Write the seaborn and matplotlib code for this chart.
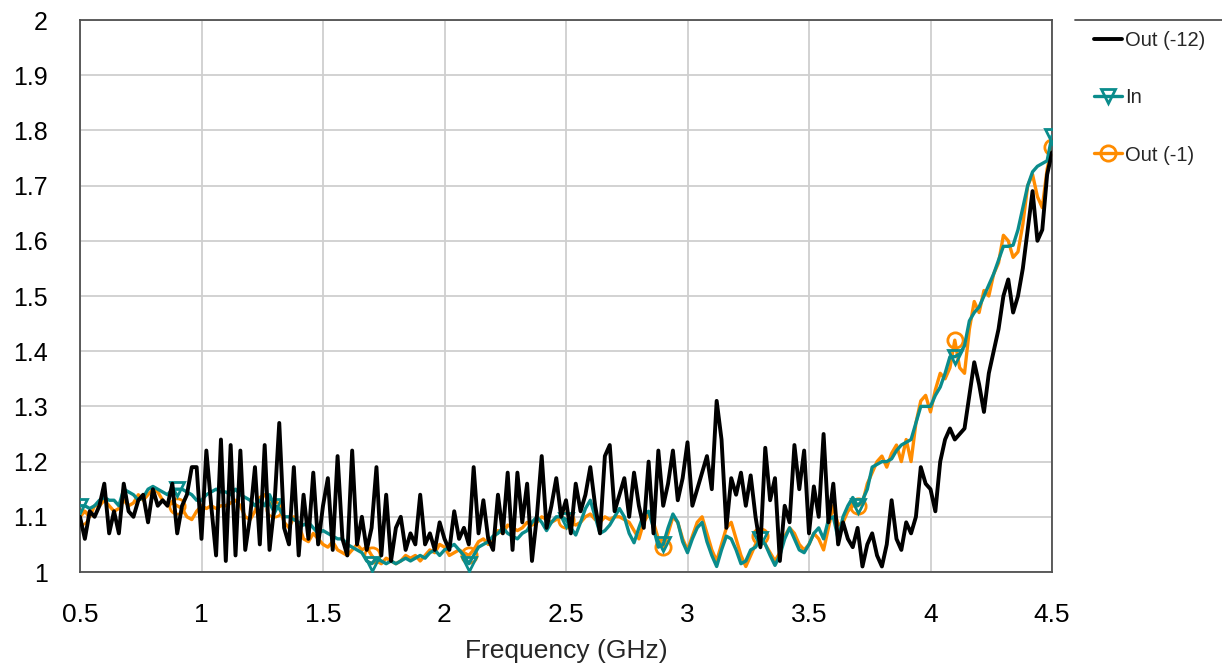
import numpy as np
import pandas as pd
import matplotlib
matplotlib.use("Agg")
import matplotlib.pyplot as plt
from matplotlib.lines import Line2D
from matplotlib.ticker import FuncFormatter
import seaborn as sns

# ---- data (0.02 GHz sampling from 0.5 to 4.5 GHz) ----
freq_start, freq_stop = 0.5, 4.5

out12_vals = [
    1.10, 1.06, 1.11, 1.10, 1.12, 1.16, 1.07, 1.11, 1.07, 1.16,   # 0.50-0.68
    1.11, 1.10, 1.13, 1.14, 1.09, 1.15, 1.12, 1.13, 1.12, 1.16,   # 0.70-0.88
    1.07, 1.12, 1.14, 1.19, 1.19, 1.06, 1.22, 1.12, 1.03, 1.24,   # 0.90-1.08
    1.02, 1.23, 1.03, 1.22, 1.04, 1.10, 1.19, 1.05, 1.23, 1.04,   # 1.10-1.28
    1.12, 1.27, 1.08, 1.05, 1.19, 1.03, 1.14, 1.06, 1.18, 1.05,   # 1.30-1.48
    1.12, 1.17, 1.04, 1.21, 1.06, 1.03, 1.22, 1.05, 1.10, 1.04,   # 1.50-1.68
    1.08, 1.19, 1.03, 1.14, 1.02, 1.08, 1.10, 1.04, 1.07, 1.05,   # 1.70-1.88
    1.14, 1.05, 1.07, 1.04, 1.09, 1.06, 1.04, 1.11, 1.06, 1.08,   # 1.90-2.08
    1.05, 1.19, 1.07, 1.13, 1.06, 1.04, 1.14, 1.07, 1.18, 1.04,   # 2.10-2.28
    1.18, 1.09, 1.16, 1.02, 1.10, 1.21, 1.08, 1.12, 1.17, 1.10,   # 2.30-2.48
    1.13, 1.07, 1.16, 1.11, 1.14, 1.19, 1.12, 1.07, 1.21, 1.23,   # 2.50-2.68
    1.11, 1.14, 1.17, 1.10, 1.18, 1.12, 1.08, 1.20, 1.07, 1.22,   # 2.70-2.88
    1.12, 1.16, 1.22, 1.13, 1.17, 1.235, 1.12, 1.15, 1.18, 1.21,  # 2.90-3.08
    1.15, 1.31, 1.24, 1.08, 1.17, 1.14, 1.18, 1.12, 1.175, 1.10,  # 3.10-3.28
    1.045, 1.225, 1.13, 1.17, 1.02, 1.12, 1.09, 1.23, 1.15, 1.22, # 3.30-3.48
    1.07, 1.155, 1.10, 1.25, 1.09, 1.16, 1.05, 1.09, 1.06, 1.045, # 3.50-3.68
    1.08, 1.01, 1.05, 1.07, 1.03, 1.01, 1.05, 1.13, 1.06, 1.04,   # 3.70-3.88
    1.09, 1.07, 1.10, 1.19, 1.16, 1.15, 1.11, 1.20, 1.24, 1.26,   # 3.90-4.08
    1.24, 1.25, 1.26, 1.32, 1.38, 1.34, 1.29, 1.36, 1.40, 1.44,   # 4.10-4.28
    1.50, 1.53, 1.47, 1.50, 1.55, 1.62, 1.69, 1.60, 1.62, 1.72,   # 4.30-4.48
    1.76,                                                         # 4.50
]

in_vals = [
    1.12, 1.12, 1.115, 1.12, 1.13, 1.135, 1.13, 1.13, 1.12, 1.15,   # 0.50-0.68
    1.145, 1.14, 1.13, 1.135, 1.15, 1.155, 1.15, 1.145, 1.14, 1.15, # 0.70-0.88
    1.15, 1.15, 1.145, 1.14, 1.13, 1.13, 1.14, 1.145, 1.15, 1.145,  # 0.90-1.08
    1.145, 1.14, 1.15, 1.14, 1.135, 1.13, 1.12, 1.13, 1.12, 1.14,   # 1.10-1.28
    1.12, 1.115, 1.10, 1.10, 1.095, 1.09, 1.085, 1.09, 1.08, 1.07,  # 1.30-1.48
    1.075, 1.07, 1.065, 1.06, 1.06, 1.05, 1.045, 1.04, 1.035, 1.02, # 1.50-1.68
    1.015, 1.025, 1.02, 1.015, 1.02, 1.015, 1.02, 1.025, 1.02, 1.025, # 1.70-1.88
    1.03, 1.025, 1.035, 1.04, 1.03, 1.04, 1.045, 1.05, 1.04, 1.03,  # 1.90-2.08
    1.015, 1.03, 1.045, 1.05, 1.055, 1.065, 1.07, 1.08, 1.07, 1.065, # 2.10-2.28
    1.06, 1.07, 1.075, 1.09, 1.10, 1.09, 1.075, 1.09, 1.10, 1.10,   # 2.30-2.48
    1.095, 1.08, 1.067, 1.09, 1.115, 1.13, 1.10, 1.07, 1.075, 1.085, # 2.50-2.68
    1.10, 1.115, 1.10, 1.07, 1.053, 1.08, 1.105, 1.11, 1.08, 1.045, # 2.70-2.88
    1.05, 1.08, 1.105, 1.09, 1.055, 1.035, 1.06, 1.08, 1.09, 1.055, # 2.90-3.08
    1.03, 1.01, 1.04, 1.065, 1.06, 1.04, 1.015, 1.02, 1.04, 1.045,  # 3.10-3.28
    1.06, 1.05, 1.03, 1.012, 1.03, 1.06, 1.08, 1.06, 1.04, 1.035,   # 3.30-3.48
    1.05, 1.07, 1.08, 1.06, 1.095, 1.10, 1.06, 1.10, 1.12, 1.135,   # 3.50-3.68
    1.12, 1.13, 1.15, 1.19, 1.195, 1.20, 1.20, 1.205, 1.22, 1.23,   # 3.70-3.88
    1.235, 1.24, 1.27, 1.30, 1.30, 1.30, 1.32, 1.335, 1.36, 1.39,   # 3.90-4.08
    1.39, 1.395, 1.41, 1.455, 1.47, 1.48, 1.50, 1.52, 1.54, 1.565,  # 4.10-4.28
    1.59, 1.59, 1.592, 1.62, 1.66, 1.70, 1.725, 1.735, 1.74, 1.745, # 4.30-4.48
    1.79,                                                           # 4.50
]

out1_vals = [
    1.10, 1.11, 1.10, 1.12, 1.12, 1.13, 1.12, 1.11, 1.115, 1.13,    # 0.50-0.68
    1.12, 1.125, 1.14, 1.13, 1.14, 1.15, 1.145, 1.13, 1.12, 1.125,  # 0.70-0.88
    1.12, 1.115, 1.10, 1.095, 1.11, 1.12, 1.115, 1.12, 1.115, 1.12, # 0.90-1.08
    1.12, 1.125, 1.13, 1.12, 1.10, 1.095, 1.11, 1.135, 1.14, 1.125, # 1.10-1.28
    1.115, 1.12, 1.09, 1.08, 1.10, 1.085, 1.06, 1.055, 1.07, 1.06,  # 1.30-1.48
    1.05, 1.045, 1.055, 1.04, 1.035, 1.03, 1.04, 1.05, 1.04, 1.045, # 1.50-1.68
    1.03, 1.02, 1.015, 1.025, 1.02, 1.015, 1.02, 1.03, 1.025, 1.03, # 1.70-1.88
    1.02, 1.03, 1.04, 1.035, 1.05, 1.045, 1.03, 1.035, 1.04, 1.035, # 1.90-2.08
    1.03, 1.04, 1.055, 1.06, 1.05, 1.06, 1.075, 1.07, 1.085, 1.08,  # 2.10-2.28
    1.075, 1.08, 1.09, 1.085, 1.09, 1.10, 1.095, 1.09, 1.095, 1.10, # 2.30-2.48
    1.095, 1.09, 1.085, 1.09, 1.10, 1.105, 1.095, 1.09, 1.10, 1.095, # 2.50-2.68
    1.10, 1.10, 1.095, 1.09, 1.075, 1.06, 1.09, 1.105, 1.09, 1.06,  # 2.70-2.88
    1.045, 1.07, 1.10, 1.09, 1.06, 1.04, 1.065, 1.09, 1.10, 1.07,   # 2.90-3.08
    1.04, 1.02, 1.05, 1.08, 1.09, 1.06, 1.03, 1.01, 1.03, 1.05,     # 3.10-3.28
    1.065, 1.05, 1.035, 1.02, 1.035, 1.065, 1.08, 1.07, 1.05, 1.04, # 3.30-3.48
    1.05, 1.07, 1.06, 1.04, 1.08, 1.12, 1.085, 1.09, 1.11, 1.12,    # 3.50-3.68
    1.12, 1.125, 1.16, 1.18, 1.20, 1.21, 1.19, 1.215, 1.23, 1.20,   # 3.70-3.88
    1.24, 1.20, 1.27, 1.31, 1.32, 1.29, 1.33, 1.36, 1.35, 1.37,     # 3.90-4.08
    1.42, 1.37, 1.36, 1.44, 1.49, 1.47, 1.51, 1.50, 1.54, 1.56,     # 4.10-4.28
    1.61, 1.60, 1.57, 1.58, 1.63, 1.70, 1.72, 1.68, 1.66, 1.73,     # 4.30-4.48
    1.77,                                                           # 4.50
]

series_names = ["Out (-12)", "In", "Out (-1)"]
x_ticks = [0.5, 1, 1.5, 2, 2.5, 3, 3.5, 4, 4.5]
y_ticks = [1, 1.1, 1.2, 1.3, 1.4, 1.5, 1.6, 1.7, 1.8, 1.9, 2]

# ---- build tidy frames ----
def frame(vals, name):
    f = np.linspace(freq_start, freq_stop, len(vals))
    return pd.DataFrame({"Frequency": f, "Value": vals, "Series": name})

df12 = frame(out12_vals, series_names[0])
dfin = frame(in_vals, series_names[1])
df1 = frame(out1_vals, series_names[2])

# ---- style ----
sns.set_theme(style="whitegrid")
plt.rcParams["font.family"] = ["Liberation Sans", "DejaVu Sans"]

fig = plt.figure(figsize=(12.22, 6.68), dpi=100)
ax = fig.add_axes([80 / 1222, 1 - 572 / 668, (1052 - 80) / 1222, (572 - 20) / 668])
ax.set_facecolor("white")

teal = "#0a8c8c"
orange = "#ff8c00"

sns.lineplot(data=df1, x="Frequency", y="Value", ax=ax, color=orange, lw=2.4,
             marker="o", markevery=20, markersize=11, markerfacecolor="none",
             markeredgecolor=orange, markeredgewidth=2, label=series_names[2],
             zorder=2)
sns.lineplot(data=dfin, x="Frequency", y="Value", ax=ax, color=teal, lw=2.4,
             marker="v", markevery=20, markersize=10, markerfacecolor="none",
             markeredgecolor=teal, markeredgewidth=2, label=series_names[1],
             zorder=3)
sns.lineplot(data=df12, x="Frequency", y="Value", ax=ax, color="black", lw=2.8,
             label=series_names[0], zorder=4)

ax.set_xlim(freq_start, freq_stop)
ax.set_ylim(1, 2)
ax.set_xticks(x_ticks)
ax.set_yticks(y_ticks)
ax.xaxis.set_major_formatter(FuncFormatter(lambda v, p: f"{v:g}"))
ax.yaxis.set_major_formatter(FuncFormatter(lambda v, p: f"{v:g}"))
ax.tick_params(axis="both", length=0, colors="black")
ax.tick_params(axis="x", pad=22, labelsize=19)
ax.tick_params(axis="y", pad=23, labelsize=18)
ax.grid(True, color="#cfcfcf", lw=1.3)
for s in ax.spines.values():
    s.set_color("#505050")
    s.set_linewidth(1.3)
ax.set_xlabel("Frequency (GHz)", fontsize=19, labelpad=9)
ax.set_ylabel("")

# legend outside on the right, in reference order
handles, labels = ax.get_legend_handles_labels()
order = [labels.index(n) for n in series_names]
leg = ax.legend([handles[i] for i in order], [labels[i] for i in order],
                loc="upper left", bbox_to_anchor=(1094 / 1222, 1 - 31 / 668),
                bbox_transform=fig.transFigure, frameon=False, fontsize=14.5,
                handlelength=1.4, handletextpad=0.15, labelspacing=1.9,
                borderaxespad=0, borderpad=0)
fig.add_artist(Line2D([1075 / 1222, 1.0], [1 - 20 / 668, 1 - 20 / 668],
                      transform=fig.transFigure, color="#505050", lw=1.3))

fig.savefig("out.png", dpi=100)
